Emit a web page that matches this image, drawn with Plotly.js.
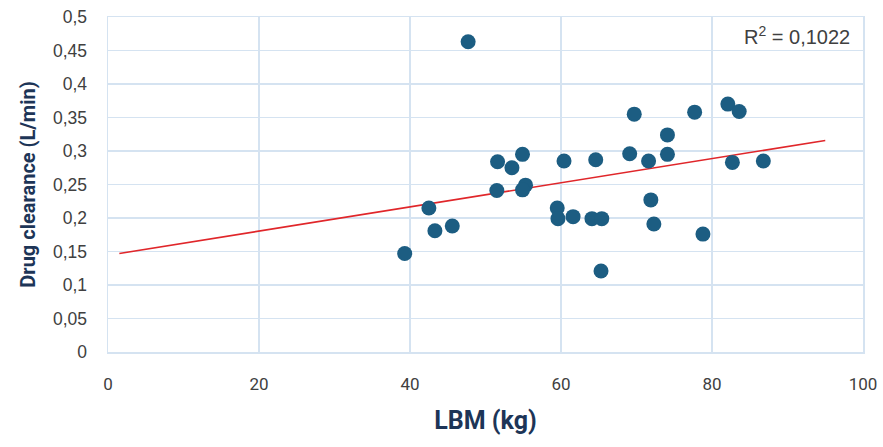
<!DOCTYPE html>
<html>
<head>
<meta charset="utf-8">
<script src="https://cdn.plot.ly/plotly-3.0.1.min.js"></script>
<style>html,body{margin:0;padding:0;background:#fff;}#chart{width:883px;height:447px;}</style>
</head>
<body>
<div id="chart"></div>
<script>
// Data
const lbm = [39.3, 47.7, 42.5, 43.3, 45.6, 51.6, 51.5, 53.5, 54.9, 55.3, 54.9,
             60.4, 59.5, 59.6, 61.6, 64.1, 65.4, 64.6, 65.3, 69.7, 69.1, 71.6,
             71.9, 72.3, 74.1, 74.1, 77.7, 78.8, 82.1, 83.6, 82.7, 86.8];
const clearance = [0.147, 0.463, 0.215, 0.181, 0.188, 0.284, 0.241, 0.275, 0.295, 0.249, 0.242,
                   0.285, 0.215, 0.199, 0.202, 0.199, 0.199, 0.287, 0.121, 0.355, 0.296, 0.285,
                   0.227, 0.191, 0.324, 0.295, 0.358, 0.176, 0.370, 0.359, 0.283, 0.285];
const trendRange = [1.5, 95];
const yTickVals = [0, 0.05, 0.1, 0.15, 0.2, 0.25, 0.3, 0.35, 0.4, 0.45, 0.5];
const yTickText = ['0', '0,05', '0,1', '0,15', '0,2', '0,25', '0,3', '0,35', '0,4', '0,45', '0,5'];
const xTickVals = [0, 20, 40, 60, 80, 100];
const xTickText = ['0', '20', '40', '60', '80', '100'];
const r2Label = 'R<sup>2</sup> = 0,1022';

// Linear regression (trendline) computed from the data
const n = lbm.length;
const mx = lbm.reduce((a, b) => a + b, 0) / n;
const my = clearance.reduce((a, b) => a + b, 0) / n;
let sxy = 0, sxx = 0;
for (let i = 0; i < n; i++) { sxy += (lbm[i] - mx) * (clearance[i] - my); sxx += (lbm[i] - mx) ** 2; }
const slope = sxy / sxx;
const intercept = my - slope * mx;
const trendX = trendRange;
const trendY = trendRange.map(x => intercept + slope * x);

const grid = '#d5e3f1';
const traces = [
  {x: trendX, y: trendY, mode: 'lines', line: {color: '#e0262a', width: 1.6}, hoverinfo: 'skip'},
  {x: lbm, y: clearance, mode: 'markers', marker: {color: '#1c5d82', size: 15, line: {width: 0}}}
];
const layout = {
  width: 883, height: 447,
  margin: {l: 108, r: 20, t: 17, b: 95},
  paper_bgcolor: '#ffffff', plot_bgcolor: '#ffffff',
  showlegend: false,
  separators: ',.',
  xaxis: {
    range: [0, 100], tickvals: xTickVals, ticktext: xTickText,
    showgrid: true, gridcolor: grid, gridwidth: 1.5, zeroline: false,
    showline: true, linecolor: grid, linewidth: 1.5, mirror: true,
    ticks: 'outside', ticklen: 16, tickcolor: 'rgba(0,0,0,0)',
    tickfont: {family: 'Roboto, sans-serif', size: 17, color: '#404040'},
    title: {text: '<b>LBM (kg)</b>', standoff: 18, font: {family: 'Roboto, sans-serif', size: 25, color: '#1d3557'}}
  },
  yaxis: {
    range: [0, 0.5], tickvals: yTickVals, ticktext: yTickText,
    showgrid: true, gridcolor: grid, gridwidth: 1.5, zeroline: false,
    showline: true, linecolor: grid, linewidth: 1.5, mirror: true,
    ticks: 'outside', ticklen: 16, tickcolor: 'rgba(0,0,0,0)',
    tickfont: {family: 'Liberation Sans, Arial, sans-serif', size: 17.5, color: '#404040'},
    title: {text: '<b>Drug clearance (L/min)</b>', standoff: 12, font: {family: 'Roboto, sans-serif', size: 20, color: '#1d3557'}}
  },
  annotations: [{
    xref: 'paper', yref: 'paper', x: 0.985, y: 0.945, xanchor: 'right', yanchor: 'middle',
    text: r2Label, showarrow: false,
    font: {family: 'Liberation Sans, Arial, sans-serif', size: 20, color: '#404040'}
  }]
};
Plotly.newPlot('chart', traces, layout, {displayModeBar: false, staticPlot: true});
</script>
</body>
</html>
